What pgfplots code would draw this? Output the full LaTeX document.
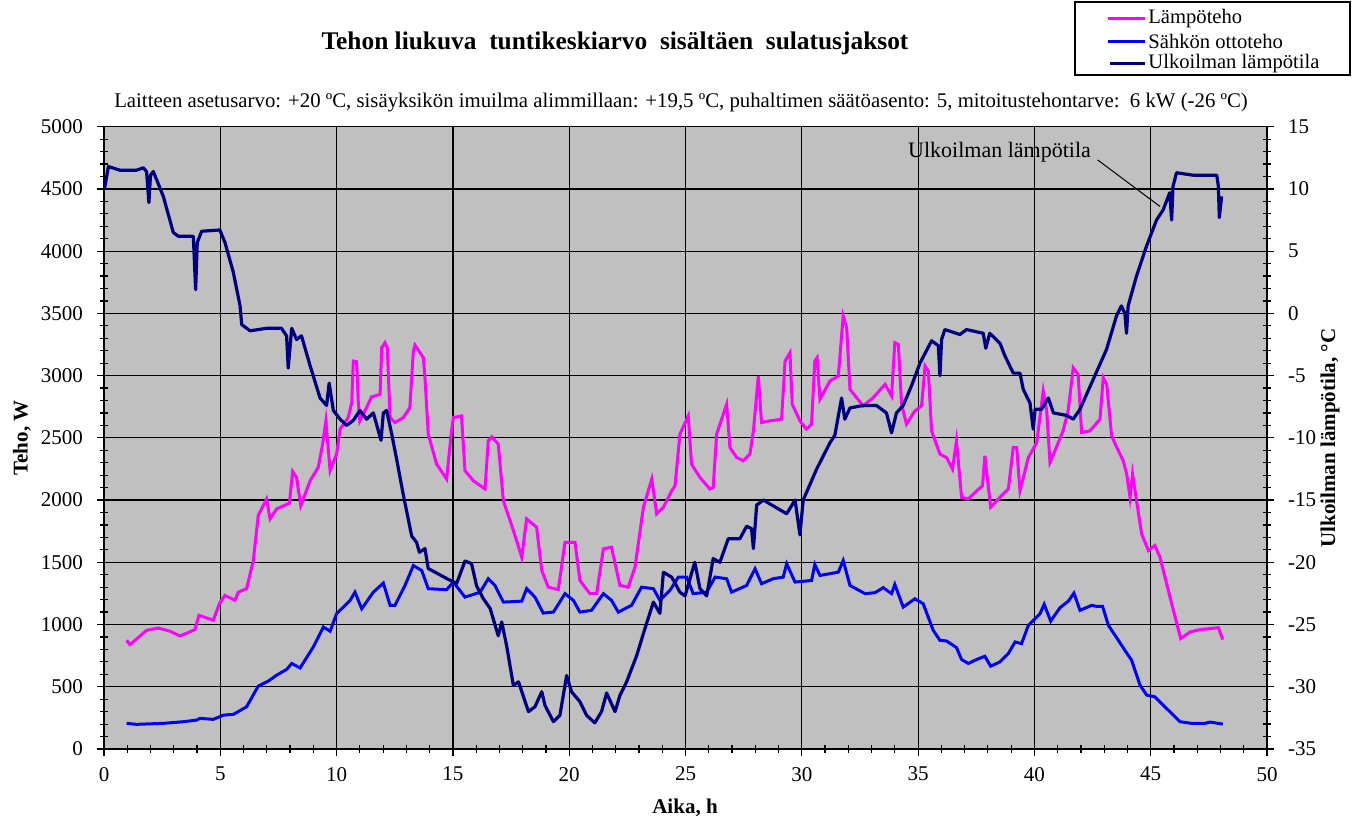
\documentclass[border=0pt]{standalone}
\usepackage{pgfplots}
\pgfplotsset{compat=1.18}
\usepackage{fontspec}
\setmainfont{Liberation Serif}
\definecolor{bggray}{HTML}{C0C0C0}
\definecolor{magline}{HTML}{FF00FF}
\definecolor{blueline}{HTML}{0000FF}
\definecolor{navyline}{HTML}{000080}
\begin{document}
\begin{tikzpicture}
\path[use as bounding box] (0,0) rectangle (678.5pt,412pt);
\begin{axis}[
  at={(52pt,37.5pt)}, anchor=south west, scale only axis,
  width=581.5pt, height=311.15pt,
  xmin=0, xmax=50, ymin=0, ymax=5000,
  axis x line*=bottom, axis y line*=left,
  axis line style={-, black, line width=0.6pt},
  axis background/.style={fill=bggray, draw=gray, line width=0.6pt},
  xtick={0,5,...,50}, ytick={0,500,...,5000},
  xticklabels={0,5,10,15,20,25,30,35,40,45,50},
  yticklabels={0,500,1000,1500,2000,2500,3000,3500,4000,4500,5000},
  minor x tick num=4, minor y tick num=4,
  tick align=center, major tick length=7pt, minor tick length=4pt,
  tick style={black, line width=0.6pt},
  grid=major, major grid style={black, line width=0.6pt},
  ticklabel style={font=\fontsize{10.5}{12}\selectfont},
  yticklabel style={xshift=-3.5pt},
  xticklabel style={yshift=-2pt},
]
\addplot[magline, line width=1.5pt] coordinates {
(0.97,873) (1.12,839) (1.83,953) (2.33,972) (2.84,946) (3.27,908) (3.91,959) (4.08,1074)
(4.70,1034) (4.96,1167) (5.20,1234) (5.63,1194) (5.77,1260) (6.13,1288) (6.42,1514) (6.63,1875)
(6.99,2009) (7.14,1849) (7.42,1929) (7.97,1974) (8.11,2230) (8.28,2182) (8.46,1955) (8.86,2155)
(9.21,2262) (9.40,2450) (9.54,2636) (9.72,2236) (10.0,2370) (10.15,2570) (10.5,2663) (10.65,2783)
(10.72,3117) (10.86,3111) (10.93,2797) (11.0,2636) (11.29,2743) (11.5,2829) (11.87,2850) (11.94,3224)
(12.08,3264) (12.18,3224) (12.30,2663) (12.51,2623) (12.87,2663) (13.15,2743) (13.30,3197) (13.37,3245)
(13.73,3144) (13.80,2983) (13.94,2530) (14.3,2289) (14.73,2169) (14.94,2556) (15.02,2663) (15.37,2676)
(15.52,2236) (15.88,2155) (16.38,2089) (16.52,2476) (16.67,2508) (16.95,2450) (17.17,1995) (17.6,1755)
(17.96,1541) (18.17,1849) (18.6,1781) (18.82,1434) (19.1,1300) (19.53,1280) (19.82,1661) (20.25,1661)
(20.46,1354) (20.89,1248) (21.18,1248) (21.47,1608) (21.82,1621) (22.18,1314) (22.54,1300) (22.83,1461)
(23.19,1942) (23.55,2169) (23.76,1889) (24.05,1942) (24.41,2075) (24.55,2115) (24.76,2530) (25.12,2676)
(25.26,2289) (25.62,2182) (26.05,2089) (26.19,2102) (26.34,2530) (26.77,2770) (26.91,2422) (27.2,2342)
(27.48,2316) (27.77,2369) (27.92,2556) (28.13,2997) (28.27,2623) (28.63,2636) (29.13,2650) (29.28,3117)
(29.49,3184) (29.59,2770) (29.92,2636) (30.2,2570) (30.42,2610) (30.56,3117) (30.66,3144) (30.78,2810)
(31.21,2957) (31.57,2997) (31.78,3478) (31.93,3384) (32.07,2890) (32.64,2757) (33.07,2823) (33.58,2930)
(33.86,2837) (34.0,3264) (34.15,3251) (34.29,2770) (34.5,2610) (34.86,2716) (35.15,2757) (35.3,3077)
(35.44,3037) (35.58,2556) (35.94,2369) (36.22,2342) (36.48,2249) (36.65,2476) (36.87,2022) (37.16,2009)
(37.45,2062) (37.77,2115) (37.87,2356) (38.12,1942) (38.52,2022) (38.88,2089) (39.09,2422) (39.24,2422)
(39.38,2075) (39.74,2342) (40.1,2462) (40.38,2877) (40.53,2716) (40.67,2302) (40.96,2430) (41.24,2560)
(41.45,2716) (41.67,3063) (41.88,3010) (42.03,2543) (42.39,2556) (42.82,2650) (42.96,2983) (43.11,2930)
(43.32,2516) (43.61,2396) (43.82,2316) (43.97,2209) (44.11,2022) (44.22,2209) (44.37,2022) (44.61,1728)
(44.9,1594) (45.18,1635) (45.4,1541) (45.83,1220) (46.29,887) (46.69,940) (47.12,959) (47.55,967)
(47.91,975) (48.1,879)
};
\addplot[blueline, line width=1.5pt] coordinates {
(0.97,206) (1.4,198) (2.55,206) (3.41,219) (3.98,232) (4.13,246) (4.70,238) (5.13,272)
(5.56,278) (6.13,339) (6.63,505) (7.06,545) (7.42,593) (7.85,639) (8.07,687) (8.43,651)
(9.0,820) (9.43,980) (9.72,946) (10.0,1087) (10.58,1194) (10.79,1260) (11.08,1127) (11.58,1260)
(12.01,1333) (12.3,1154) (12.51,1154) (12.94,1314) (13.3,1474) (13.66,1434) (13.94,1288) (14.73,1280)
(15.02,1341) (15.52,1220) (16.17,1260) (16.52,1368) (16.81,1314) (17.17,1180) (17.96,1188) (18.17,1288)
(18.53,1220) (18.88,1092) (19.32,1100) (19.82,1248) (20.18,1194) (20.46,1100) (20.96,1114) (21.47,1248)
(21.82,1194) (22.11,1100) (22.68,1154) (23.11,1300) (23.62,1288) (23.9,1194) (24.33,1274) (24.69,1381)
(25.05,1381) (25.33,1248) (25.91,1260) (26.27,1381) (26.77,1368) (26.98,1260) (27.63,1314) (27.99,1448)
(28.27,1328) (28.77,1368) (29.2,1381) (29.35,1488) (29.71,1341) (30.42,1354) (30.56,1482) (30.78,1394)
(31.57,1421) (31.78,1514) (32.07,1314) (32.72,1248) (33.15,1256) (33.5,1296) (33.86,1248) (34.0,1322)
(34.36,1140) (34.86,1207) (35.22,1167) (35.65,953) (35.94,873) (36.22,868) (36.65,815) (36.87,719)
(37.16,687) (37.52,719) (37.87,745) (38.12,665) (38.52,700) (38.88,767) (39.17,860) (39.45,847)
(39.74,994) (40.24,1087) (40.42,1162) (40.7,1028) (41.1,1135) (41.46,1188) (41.7,1252) (41.96,1114)
(42.46,1154) (42.67,1146) (42.93,1146) (43.18,994) (43.61,873) (43.89,793) (44.18,713) (44.54,513)
(44.83,433) (45.18,419) (45.68,326) (46.26,219) (46.76,206) (47.33,206) (47.55,216) (48.1,200)
};
\end{axis}
\begin{axis}[
  at={(52pt,37.5pt)}, anchor=south west, scale only axis,
  width=581.5pt, height=311.15pt,
  xmin=0, xmax=50, ymin=-35, ymax=15,
  axis x line=none, axis y line*=right,
  axis line style={-, black, line width=0.6pt},
  ytick={-35,-30,...,15},
  yticklabels={-35,-30,-25,-20,-15,-10,-5,0,5,10,15},
  minor y tick num=4,
  tick align=center, major tick length=7pt, minor tick length=4pt,
  tick style={black, line width=0.6pt},
  ticklabel style={font=\fontsize{10.5}{12}\selectfont},
  yticklabel style={xshift=3.5pt},
]
\addplot[navyline, line width=1.6pt, line join=round] coordinates {
(0.02,10.0) (0.19,11.8) (0.69,11.5) (1.40,11.5) (1.69,11.7) (1.83,11.4) (1.93,8.9) (2.0,11.1)
(2.12,11.4) (2.55,9.4) (2.98,6.5) (3.19,6.2) (3.84,6.2) (3.94,1.9) (4.01,5.7) (4.2,6.6)
(4.98,6.7) (5.2,5.7) (5.56,3.3) (5.85,0.6) (5.92,-0.9) (6.28,-1.4) (6.99,-1.2) (7.63,-1.2)
(7.85,-1.8) (7.92,-4.4) (8.07,-1.2) (8.28,-2.1) (8.49,-1.8) (8.86,-4.2) (9.29,-6.8) (9.57,-7.4)
(9.68,-5.6) (9.86,-7.8) (10.15,-8.5) (10.43,-9.0) (10.72,-8.6) (11.0,-7.8) (11.29,-8.5) (11.58,-8.0)
(11.91,-10.2) (12.01,-8.0) (12.15,-7.8) (12.37,-9.7) (12.58,-11.7) (12.87,-14.6) (13.23,-17.9) (13.44,-18.4)
(13.56,-19.2) (13.8,-18.9) (13.94,-20.5) (14.73,-21.3) (15.16,-21.7) (15.52,-19.9) (15.8,-20.1) (16.02,-21.9)
(16.3,-22.9) (16.6,-23.7) (16.95,-25.9) (17.1,-24.8) (17.31,-26.7) (17.6,-29.9) (17.82,-29.6) (18.25,-32.0)
(18.53,-31.6) (18.82,-30.4) (18.96,-31.5) (19.32,-32.8) (19.6,-32.3) (19.89,-29.1) (20.1,-30.4) (20.46,-31.2)
(20.75,-32.3) (21.1,-32.9) (21.39,-32.0) (21.61,-30.5) (21.97,-32.0) (22.18,-30.7) (22.47,-29.6) (22.9,-27.5)
(23.26,-25.3) (23.62,-23.2) (23.9,-24.1) (24.05,-20.8) (24.41,-21.2) (24.76,-22.4) (24.98,-22.7) (25.4,-20.0)
(25.62,-22.1) (25.91,-22.7) (26.19,-19.7) (26.48,-20.0) (26.84,-18.1) (27.34,-18.1) (27.63,-17.1) (27.84,-17.3)
(27.92,-18.9) (28.06,-15.4) (28.35,-15.0) (29.35,-16.1) (29.71,-15.0) (29.92,-17.8) (30.06,-15.0) (30.64,-12.5)
(31.21,-10.4) (31.42,-9.8) (31.71,-6.8) (31.85,-8.5) (32.07,-7.6) (32.64,-7.4) (33.21,-7.4) (33.64,-8.0)
(33.86,-9.6) (34.07,-8.0) (34.36,-7.4) (34.72,-5.8) (35.08,-4.0) (35.58,-2.2) (35.87,-2.6) (35.94,-5.0)
(36.01,-2.1) (36.15,-1.3) (36.8,-1.7) (37.08,-1.3) (37.8,-1.6) (37.91,-2.8) (38.08,-1.6) (38.52,-2.4)
(38.73,-3.4) (39.09,-4.8) (39.38,-4.8) (39.52,-6.1) (39.81,-7.2) (39.95,-9.3) (40.03,-7.7) (40.31,-7.7)
(40.6,-6.8) (40.82,-8.0) (41.39,-8.2) (41.67,-8.5) (41.96,-7.7) (42.53,-5.3) (43.1,-2.9) (43.53,-0.2)
(43.74,0.6) (43.89,0.0) (43.96,-1.6) (44.03,0.6) (44.39,3.0) (44.82,5.4) (45.25,7.5) (45.53,8.3)
(45.82,9.7) (45.9,7.5) (45.96,10.2) (46.11,11.3) (46.83,11.1) (47.55,11.1) (47.84,11.1) (47.91,10.2)
(47.95,7.7) (48.05,9.4)
};
\draw[black, line width=0.5pt] (axis cs:42.72,12.33) -- (axis cs:45.4,8.59);
\node[font=\fontsize{11}{13}\selectfont] at (axis cs:38.5,12.97) {Ulkoilman lämpötila};
\end{axis}
% titles and labels
\node[font=\fontsize{12.7}{14}\selectfont\bfseries] at (307.5pt,390.5pt) {Tehon liukuva\ \ tuntikeskiarvo\ \ sisältäen\ \ sulatusjaksot};
\node[font=\fontsize{10.4}{12}\selectfont] at (340.5pt,360.5pt) {Laitteen asetusarvo: +20 ºC, sisäyksikön imuilma alimmillaan: +19,5 ºC, puhaltimen säätöasento: 5, mitoitustehontarve:\ \ 6 kW (-26 ºC)};
\node[font=\fontsize{10.5}{12}\selectfont\bfseries, rotate=90] at (11pt,193pt) {Teho, W};
\node[font=\fontsize{10.5}{12}\selectfont\bfseries, rotate=90] at (665pt,193pt) {Ulkoilman lämpötila, °C};
\node[font=\fontsize{10.5}{12}\selectfont\bfseries] at (342.5pt,8pt) {Aika, h};
% legend
\draw[black, line width=0.6pt] (537.5pt,374.5pt) rectangle (675pt,411pt);
\draw[magline, line width=1.5pt] (554pt,402.85pt) -- (572.5pt,402.85pt);
\draw[blueline, line width=1.5pt] (554pt,391.15pt) -- (572.5pt,391.15pt);
\draw[navyline, line width=1.5pt] (555pt,380.35pt) -- (572.5pt,380.35pt);
\node[anchor=west, inner sep=0pt, font=\fontsize{10.3}{12}\selectfont] at (574pt,402.85pt) {Lämpöteho};
\node[anchor=west, inner sep=0pt, font=\fontsize{10.3}{12}\selectfont] at (574pt,391.15pt) {Sähkön ottoteho};
\node[anchor=west, inner sep=0pt, font=\fontsize{10.3}{12}\selectfont] at (574pt,380.35pt) {Ulkoilman lämpötila};
\end{tikzpicture}
\end{document}
